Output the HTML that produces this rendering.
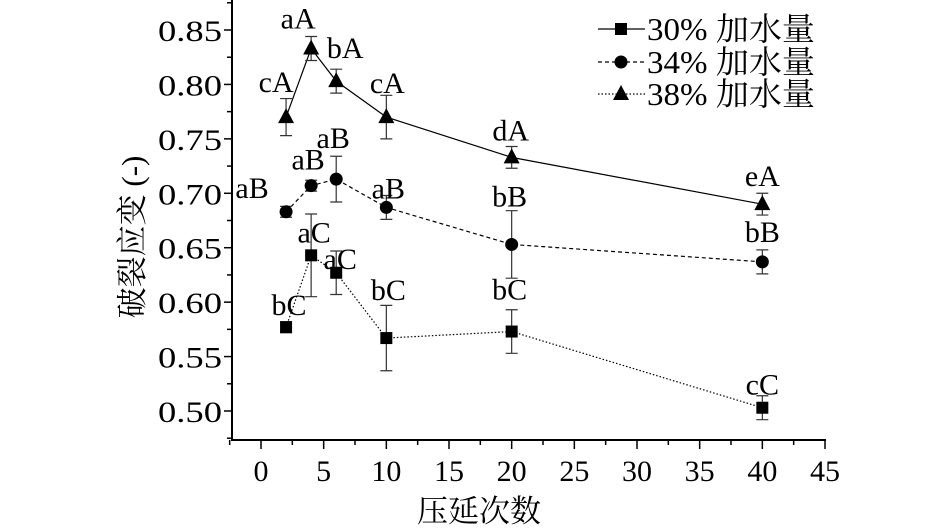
<!DOCTYPE html>
<html><head><meta charset="utf-8"><style>
body{margin:0;background:#fff;width:945px;height:531px;overflow:hidden}
svg{display:block;font-family:"Liberation Serif","Noto Serif CJK SC",serif}
</style></head><body>
<svg id="chart" width="945" height="531" viewBox="0 0 945 531" xmlns="http://www.w3.org/2000/svg"></svg>
<script>
const xCats = [2, 4, 6, 10, 20, 40];
const xTicks = [0, 5, 10, 15, 20, 25, 30, 35, 40, 45];
const yTicks = [0.50, 0.55, 0.60, 0.65, 0.70, 0.75, 0.80, 0.85];
const s30 = [0.577, 0.643, 0.627, 0.567, 0.573, 0.503];
const e30 = [0.005, 0.038, 0.020, 0.030, 0.020, 0.011];
const l30 = ["bC", "aC", "aC", "bC", "bC", "cC"];
const s34 = [0.683, 0.707, 0.713, 0.687, 0.653, 0.637];
const e34 = [0.005, 0.005, 0.021, 0.011, 0.031, 0.011];
const l34 = ["aB", "aB", "aB", "aB", "bB", "bB"];
const s38 = [0.770, 0.833, 0.803, 0.770, 0.733, 0.690];
const e38 = [0.017, 0.011, 0.011, 0.020, 0.010, 0.010];
const l38 = ["cA", "aA", "bA", "cA", "dA", "eA"];

const NS = "http://www.w3.org/2000/svg";
const svg = document.getElementById("chart");
const X = v => 261 + v * (825 - 261) / 45;
const Y = v => 411 - (v - 0.5) * (411 - 30) / 0.35;
function mk(tag, attrs, parent) {
  const e = document.createElementNS(NS, tag);
  for (const k in attrs) e.setAttribute(k, attrs[k]);
  (parent || svg).appendChild(e);
  return e;
}
const axes = mk("g", {});


const yAxis = mk("line", {x1: 232, y1: 0, x2: 232, y2: 440, stroke: "#000", "stroke-width": 2}, axes);


const xAxis = mk("line", {x1: 231, y1: 440, x2: 826, y2: 440, stroke: "#000", "stroke-width": 2}, axes);


xTicks.forEach((t, i) => {
  mk("line", {x1: X(t), y1: 440, x2: X(t), y2: 449, stroke: "#000", "stroke-width": 1.5}, axes);
  if (i < xTicks.length - 1) mk("line", {x1: X(t + 2.5), y1: 440, x2: X(t + 2.5), y2: 445, stroke: "#000", "stroke-width": 1.5}, axes);
  const tx = mk("text", {x: X(t), y: 481, "text-anchor": "middle", "font-size": 30}, axes);
  tx.textContent = t;
  
  
});
mk("line", {x1: X(-2.5), y1: 440, x2: X(-2.5), y2: 445, stroke: "#000", "stroke-width": 1.5}, axes);
yTicks.forEach(t => {
  mk("line", {x1: 232, y1: Y(t), x2: 224, y2: Y(t), stroke: "#000", "stroke-width": 1.5}, axes);
  mk("line", {x1: 232, y1: Y(t - 0.025), x2: 227, y2: Y(t - 0.025), stroke: "#000", "stroke-width": 1.5}, axes);
  const ty = mk("text", {x: 158, y: Y(t) + 11, "font-size": 30, textLength: 64, lengthAdjust: "spacingAndGlyphs"}, axes);
  ty.textContent = t.toFixed(2);
  
  
});
mk("line", {x1: 232, y1: Y(0.875), x2: 227, y2: Y(0.875), stroke: "#000", "stroke-width": 1.5}, axes);

const labelOffsets = {
  s38: [[-10, -35], [-13, -30], [9, -33], [1, -34], [-1, -27], [0, -28]],
  s34: [[-34, -24], [-3, -26], [-3, -41], [2, -19], [-2, -48], [0, -30]],
  s30: [[3, -22], [3, -23], [4, -14], [2, -48], [-2, -42], [0, -23]]
};
function drawSeries(name, vals, errs, labels, dash, marker) {
  const g = mk("g", {});
  
  
  let d = "";
  vals.forEach((v, i) => d += (i ? "L" : "M") + X(xCats[i]) + " " + Y(v));
  const ln = mk("path", {d: d, fill: "none", stroke: "#000", "stroke-width": 1.2, "stroke-dasharray": dash}, g);
  
  
  vals.forEach((v, i) => {
    const x = X(xCats[i]), y = Y(v), t = Y(v + errs[i]), b = Y(v - errs[i]);
    const eb = mk("path", {d: `M${x} ${t}V${b}M${x-6} ${t}H${x+6}M${x-6} ${b}H${x+6}`, stroke: "#333", "stroke-width": 1.2, fill: "none"}, g);
    
    
    let m;
    if (marker === "sq") m = mk("rect", {x: x - 6, y: y - 6, width: 12, height: 12, fill: "#000"}, g);
    else if (marker === "ci") m = mk("circle", {cx: x, cy: y, r: 6.5, fill: "#000"}, g);
    else m = mk("path", {d: `M${x} ${y-9}L${x+8} ${y+6}L${x-8} ${y+6}Z`, fill: "#000"}, g);
    
    
    const o = labelOffsets[name][i];
    const lb = mk("text", {x: x + o[0], y: y + o[1] + 10, "text-anchor": "middle", "font-size": 30}, g);
    lb.textContent = labels[i];
    
    
  });
}
drawSeries("s30", s30, e30, l30, "1.5 2", "sq");
drawSeries("s34", s34, e34, l34, "4 3", "ci");
drawSeries("s38", s38, e38, l38, "", "tri");

const lg = mk("g", {});


const legendRows = [["30% 加水量", "", "sq", 29], ["34% 加水量", "4 3", "ci", 62], ["38% 加水量", "1.5 2", "tri", 94]];
legendRows.forEach(r => {
  const y = r[3];
  const e = mk("g", {}, lg);
  
  
  mk("line", {x1: 598, y1: y, x2: 645, y2: y, stroke: "#000", "stroke-width": 1.2, "stroke-dasharray": r[1]}, e);
  const x = 621;
  if (r[2] === "sq") mk("rect", {x: x - 6, y: y - 6, width: 12, height: 12}, e);
  else if (r[2] === "ci") mk("circle", {cx: x, cy: y, r: 6.5}, e);
  else mk("path", {d: `M${x} ${y-9}L${x+8} ${y+6}L${x-8} ${y+6}Z`}, e);
  const t = mk("text", {x: 647, y: y + 11, "font-size": 32, textLength: 168, lengthAdjust: "spacingAndGlyphs"}, e);
  t.textContent = r[0];
});

const xt = mk("text", {x: 479, y: 522, "text-anchor": "middle", "font-size": 31});
xt.textContent = "压延次数";


const yt = mk("text", {x: 0, y: 0, "text-anchor": "middle", "font-size": 31, transform: "translate(143 237) rotate(-90)"});
yt.textContent = "破裂应变 (-)";


</script>
</body></html>
